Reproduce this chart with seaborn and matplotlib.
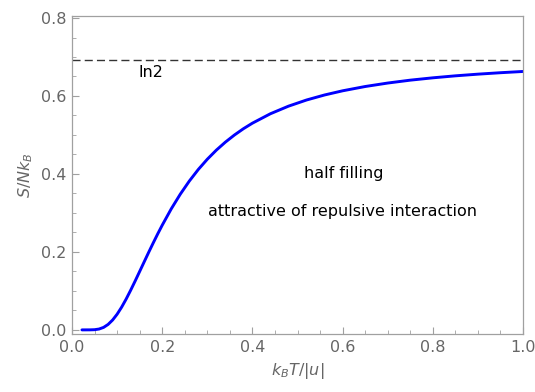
import matplotlib
matplotlib.use('Agg')
import matplotlib.pyplot as plt
from matplotlib.ticker import MultipleLocator, FormatStrFormatter
import seaborn as sns
import pandas as pd

# values
temp = [0.022, 0.04, 0.05, 0.06, 0.07, 0.08, 0.09, 0.10, 0.11, 0.12, 0.13, 0.14,
        0.15, 0.16, 0.17, 0.18, 0.19, 0.20, 0.22, 0.24, 0.26, 0.28, 0.30, 0.32,
        0.34, 0.36, 0.38, 0.40, 0.44, 0.48, 0.52, 0.56, 0.60, 0.65, 0.70, 0.75,
        0.80, 0.85, 0.90, 0.95, 1.00]
entropy = [0.0, 0.0001, 0.0005, 0.0022, 0.0064, 0.0140, 0.0253, 0.0402, 0.0583, 0.0790,
           0.1016, 0.1254, 0.1499, 0.1745, 0.1990, 0.2229, 0.2462, 0.2685, 0.3104, 0.3480,
           0.3816, 0.4115, 0.4378, 0.4611, 0.4816, 0.4998, 0.5160, 0.5303, 0.5545, 0.5739,
           0.5897, 0.6026, 0.6133, 0.6243, 0.6332, 0.6406, 0.6466, 0.6517, 0.6560, 0.6597,
           0.6629]
ln2 = 0.6931

df = pd.DataFrame({'T': temp, 'S': entropy})

sns.set_style('white')
plt.rcParams['font.family'] = ['DejaVu Sans']
plt.rcParams['mathtext.fontset'] = 'dejavusans'

spine_c = '#a0a0a0'
text_c = '#666666'

fig = plt.figure(figsize=(5.35, 3.92), dpi=100)
ax = fig.add_axes([0.1346, 0.148, 0.843, 0.811])

sns.lineplot(data=df, x='T', y='S', ax=ax, color='#0000ff', lw=2.1)
ax.axhline(ln2, color='#333333', lw=1.0, dashes=(5.8, 3.0))

ax.text(0.176, 0.659, 'ln2', fontsize=11.5, ha='center', va='center', color='black')
ax.text(0.602, 0.40, 'half filling', fontsize=11.5, ha='center', va='center', color='black')
ax.text(0.60, 0.303, 'attractive of repulsive interaction', fontsize=11.5,
        ha='center', va='center', color='black')

ax.set_xlim(0, 1.0)
ax.set_ylim(-0.0105, 0.805)
ax.xaxis.set_major_locator(MultipleLocator(0.2))
ax.xaxis.set_minor_locator(MultipleLocator(0.05))
ax.yaxis.set_major_locator(MultipleLocator(0.2))
ax.yaxis.set_minor_locator(MultipleLocator(0.05))
ax.xaxis.set_major_formatter(FormatStrFormatter('%.1f'))
ax.yaxis.set_major_formatter(FormatStrFormatter('%.1f'))

ax.tick_params(which='both', direction='in', color=spine_c, labelcolor=text_c,
               labelsize=11.5, top=False, right=False, bottom=True, left=True)
ax.tick_params(which='major', length=5, width=0.8, pad=4)
ax.tick_params(which='minor', length=3, width=0.6)

for s in ax.spines.values():
    s.set_color(spine_c)
    s.set_linewidth(0.9)

ax.set_xlabel('$k_BT/|u|$', color=text_c, fontsize=11.5, labelpad=5)
ax.set_ylabel('$S/Nk_B$', color=text_c, fontsize=11.5, labelpad=4)

fig.savefig('out.png', dpi=100)
